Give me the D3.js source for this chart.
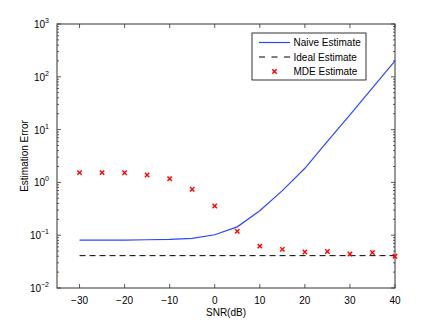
<!DOCTYPE html>
<meta charset="utf-8">
<script src="https://d3js.org/d3.v7.min.js"></script>
<style>
  body { margin: 0; background: #fff; }
  text { font-family: "Liberation Sans", Arial, sans-serif; font-size: 10px; fill: #000; }
</style>
<div id="chart"></div>
<script>
  // data
  const snr = [-30, -25, -20, -15, -10, -5, 0, 5, 10, 15, 20, 25, 30, 35, 40];
  const naive = [0.081, 0.081, 0.081, 0.082, 0.083, 0.087, 0.102, 0.144, 0.29, 0.70, 1.85, 6.0, 19, 62, 200];
  const ideal = [0.041, 0.041];
  const idealSnr = [-30, 40];
  const mde = [1.53, 1.53, 1.52, 1.38, 1.17, 0.74, 0.357, 0.119, 0.062, 0.054, 0.048, 0.049, 0.044, 0.047, 0.040];
  const xTicks = [-30, -20, -10, 0, 10, 20, 30, 40];
  const yTicks = [1e-2, 1e-1, 1e0, 1e1, 1e2, 1e3];
  const legendLabels = ["Naive Estimate", "Ideal Estimate", "MDE Estimate"];

  const margin = { top: 24, right: 41, bottom: 36, left: 57 },
    width = 436 - margin.left - margin.right,
    height = 324 - margin.top - margin.bottom;

  const svg = d3.select("#chart")
    .append("svg")
    .attr("width", 436)
    .attr("height", 324)
    .append("g")
    .attr("transform", `translate(${margin.left}, ${margin.top})`);

  const x = d3.scaleLinear().domain([-35, 40]).range([0, width]);
  const y = d3.scaleLog().domain([1e-2, 1e3]).range([height, 0]);

  // minor ticks for the log axis
  const minor = [];
  for (let e = -2; e < 3; e++) {
    for (let k = 2; k <= 9; k++) minor.push(k * Math.pow(10, e));
  }

  const axisColor = "#333";
  const blue = "#2a48ff";

  // ticks (inward, on all four sides)
  const tk = svg.append("g").attr("stroke", axisColor).attr("stroke-width", 0.8);
  xTicks.forEach(function (v) {
    tk.append("line").attr("x1", x(v)).attr("x2", x(v)).attr("y1", height).attr("y2", height - 4);
    tk.append("line").attr("x1", x(v)).attr("x2", x(v)).attr("y1", 0).attr("y2", 4);
  });
  yTicks.forEach(function (v) {
    tk.append("line").attr("x1", 0).attr("x2", 4).attr("y1", y(v)).attr("y2", y(v));
    tk.append("line").attr("x1", width).attr("x2", width - 4).attr("y1", y(v)).attr("y2", y(v));
  });
  minor.forEach(function (v) {
    tk.append("line").attr("x1", 0).attr("x2", 2).attr("y1", y(v)).attr("y2", y(v));
    tk.append("line").attr("x1", width).attr("x2", width - 2).attr("y1", y(v)).attr("y2", y(v));
  });

  // box
  svg.append("rect")
    .attr("width", width).attr("height", height)
    .attr("fill", "none").attr("stroke", axisColor).attr("stroke-width", 1);

  // x tick labels
  svg.append("g").selectAll("text")
    .data(xTicks)
    .join("text")
    .attr("x", function (d) { return x(d); })
    .attr("y", height + 16)
    .attr("text-anchor", "middle")
    .text(function (d) { return d < 0 ? "\u2212" + Math.abs(d) : d; });

  // y tick labels 10^n
  const yl = svg.append("g").selectAll("text")
    .data(yTicks)
    .join("text")
    .attr("x", -8)
    .attr("y", function (d) { return y(d) + 4; })
    .attr("text-anchor", "end");
  yl.append("tspan").text("10");
  yl.append("tspan")
    .attr("dy", -5)
    .style("font-size", "7px")
    .text(function (d) { const e = Math.round(Math.log10(d)); return e < 0 ? "\u2212" + Math.abs(e) : e; });

  // axis labels
  svg.append("text")
    .attr("x", width / 2)
    .attr("y", height + 28)
    .attr("text-anchor", "middle")
    .text("SNR(dB)");
  svg.append("text")
    .attr("transform", `translate(${-29}, ${height / 2}) rotate(-90)`)
    .attr("text-anchor", "middle")
    .text("Estimation Error");

  // series
  const line = d3.line()
    .x(function (d) { return x(d[0]); })
    .y(function (d) { return y(d[1]); });

  svg.append("path")
    .datum(snr.map(function (s, i) { return [s, naive[i]]; }))
    .attr("fill", "none")
    .attr("stroke", blue)
    .attr("stroke-width", 1.2)
    .attr("d", line);

  svg.append("path")
    .datum(idealSnr.map(function (s, i) { return [s, ideal[i]]; }))
    .attr("fill", "none")
    .attr("stroke", "#000")
    .attr("stroke-width", 1)
    .attr("stroke-dasharray", "6,4")
    .attr("d", line);

  function cross(g, cx, cy) {
    const r = 2.2;
    g.append("path")
      .attr("d", `M${cx - r},${cy - r}L${cx + r},${cy + r}M${cx - r},${cy + r}L${cx + r},${cy - r}`)
      .attr("stroke", "#ff0000")
      .attr("stroke-width", 1.4)
      .attr("fill", "none");
  }
  const mk = svg.append("g");
  snr.forEach(function (s, i) { cross(mk, x(s), y(mde[i])); });

  // legend
  const lg = svg.append("g").attr("transform", `translate(${252 - margin.left}, ${33 - margin.top})`);
  lg.append("rect")
    .attr("width", 114).attr("height", 47)
    .attr("fill", "#fff").attr("stroke", "#000").attr("stroke-width", 0.8);
  const rows = [9.5, 24, 38.5];
  lg.append("line").attr("x1", 7).attr("x2", 38).attr("y1", rows[0]).attr("y2", rows[0])
    .attr("stroke", blue).attr("stroke-width", 1.2);
  lg.append("line").attr("x1", 7).attr("x2", 38).attr("y1", rows[1]).attr("y2", rows[1])
    .attr("stroke", "#000").attr("stroke-width", 1).attr("stroke-dasharray", "6,6.5");
  cross(lg, 22.5, rows[2]);
  lg.selectAll("text.lab")
    .data(legendLabels)
    .join("text")
    .attr("class", "lab")
    .attr("x", 41.5)
    .attr("y", function (d, i) { return rows[i] + 3.5; })
    .text(function (d) { return d; });
</script>
